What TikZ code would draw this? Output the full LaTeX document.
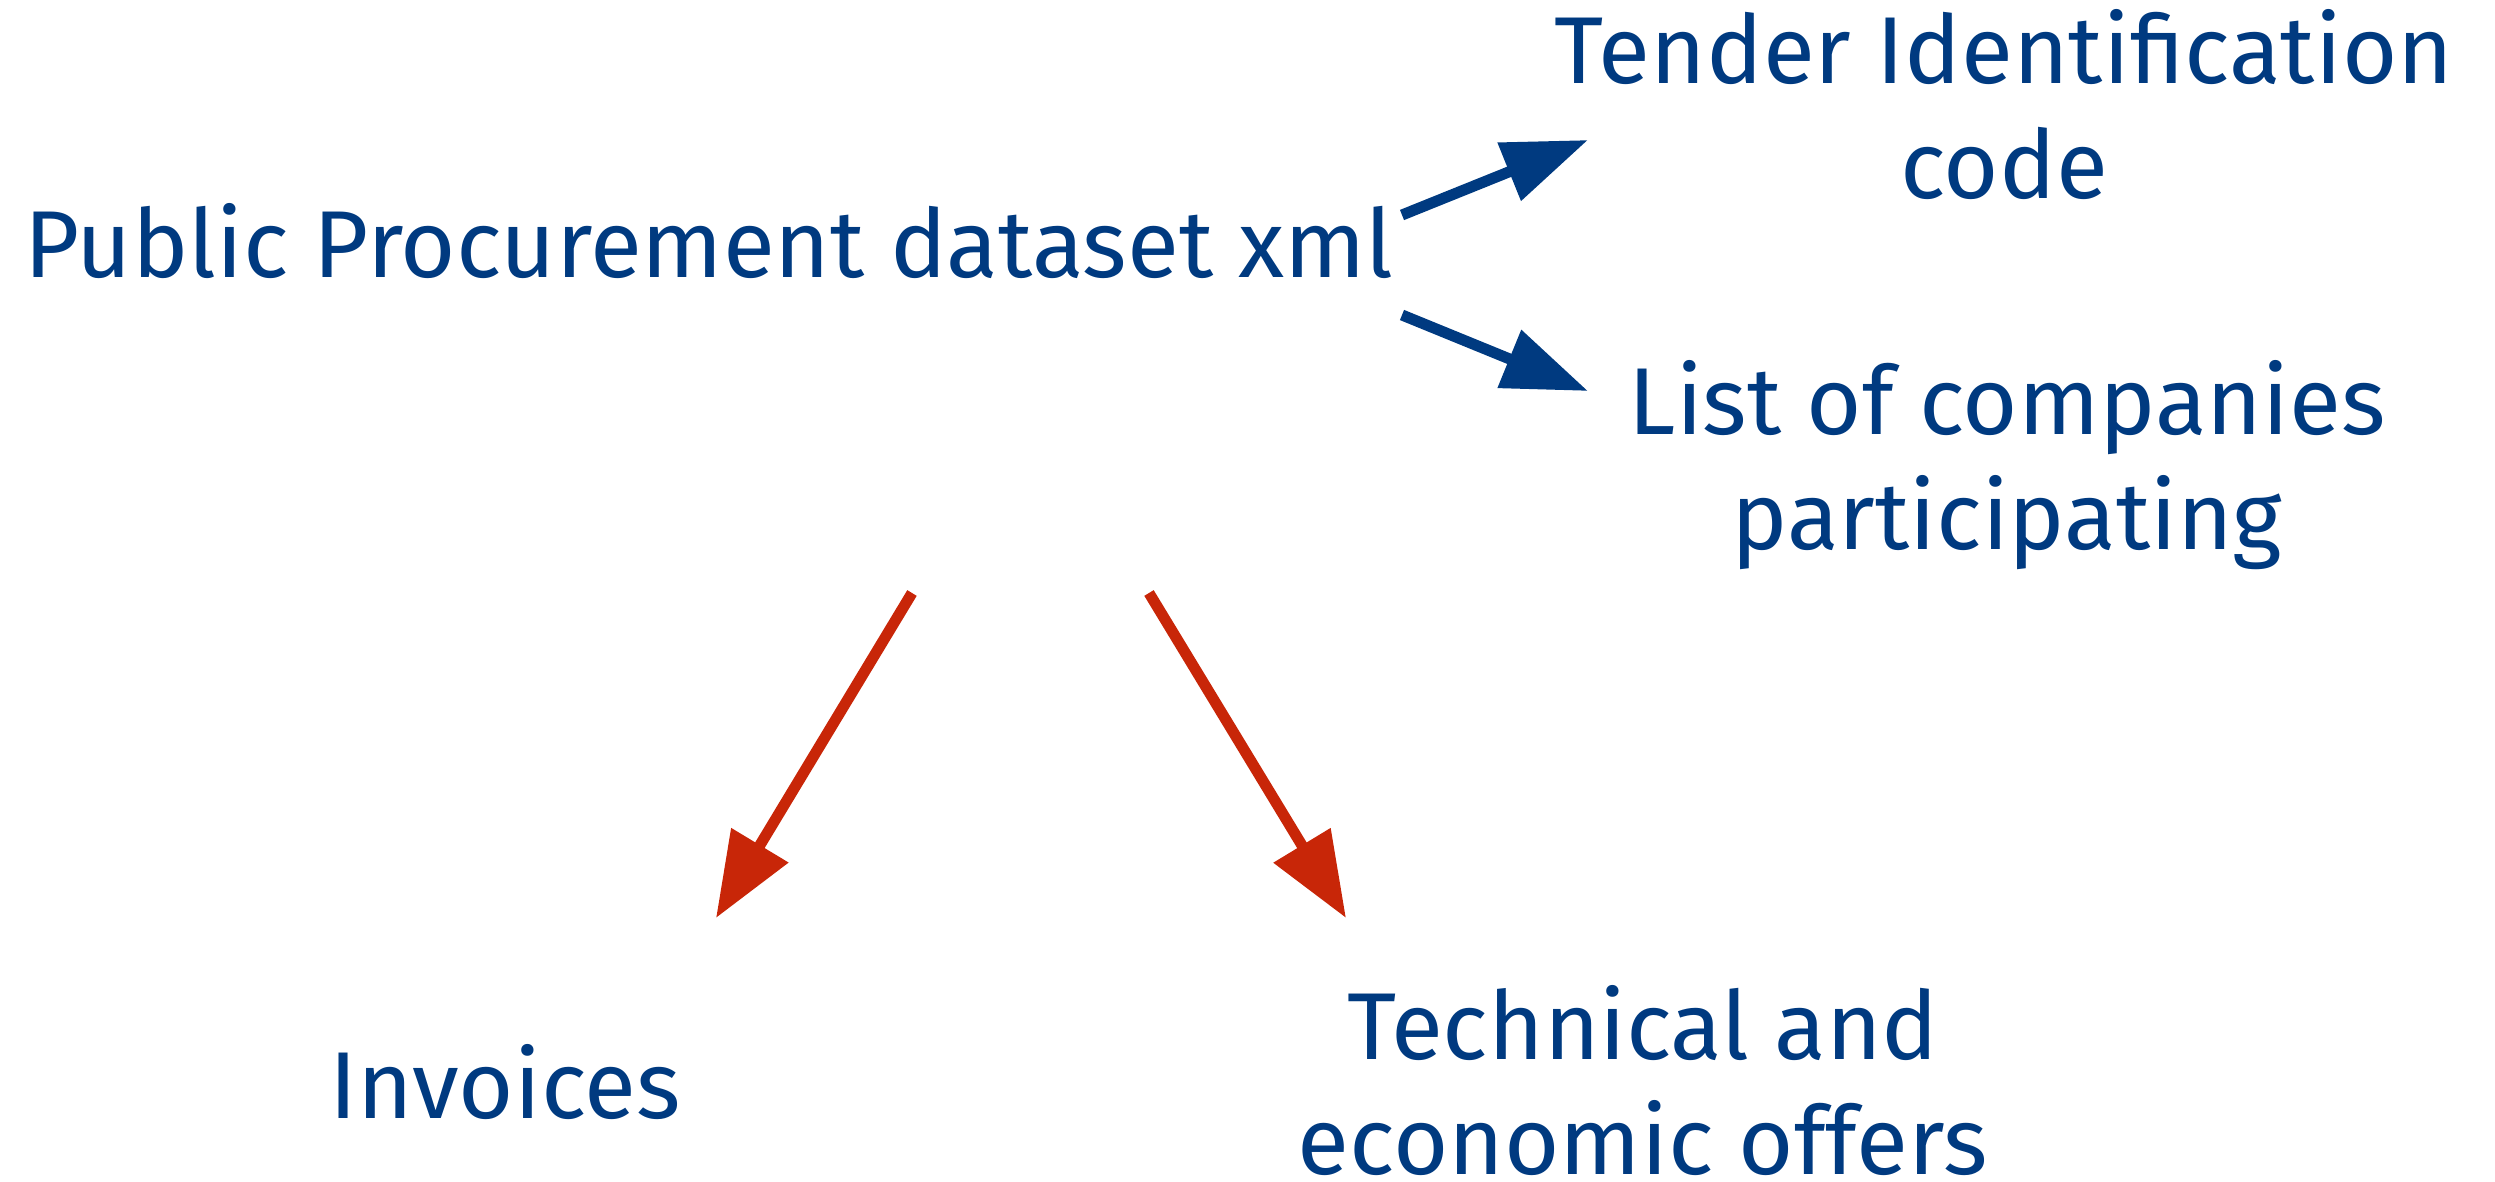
\documentclass[tikz,border=0pt]{standalone}
\usepackage{fontspec}
\setmainfont{Fira Sans}
\usetikzlibrary{arrows.meta}
\definecolor{txtblue}{RGB}{0,58,128}
\definecolor{arrred}{RGB}{200,38,8}
\tikzset{
  lbl/.style={text=txtblue, inner sep=0pt, align=center, font=\fontsize{95}{115}\selectfont},
  bluearr/.style={draw=txtblue, line width=11pt, -{Triangle[length=85pt,width=60pt]}},
  redarr/.style={draw=arrred, line width=11pt, -{Triangle[length=85pt,width=64pt]}}
}
\begin{document}
\begin{tikzpicture}[x=1pt,y=-1pt]
\useasboundingbox (0,0) rectangle (2495,1182);
\node[lbl, anchor=base west] (src) at (24,278) {Public Procurement dataset xml};
\node[lbl, anchor=base] (tic) at (2004,199) {Tender Identification\\code};
\node[lbl, anchor=base] (loc) at (2007,549) {List of companies\\participating};
\node[lbl, anchor=base] (inv) at (505,1118) {Invoices};
\node[lbl, anchor=base] (teo) at (1643,1174) {Technical and\\economic offers};
\coordinate (s1) at (1402,215);
\coordinate (e1) at (1588,140);
\coordinate (s2) at (1402,315);
\coordinate (e2) at (1588,391);
\coordinate (s3) at (912,593);
\coordinate (e3) at (716,918);
\coordinate (s4) at (1149,593);
\coordinate (e4) at (1346,918);
\draw[bluearr] (s1) -- (e1);
\draw[bluearr] (s2) -- (e2);
\draw[redarr] (s3) -- (e3);
\draw[redarr] (s4) -- (e4);
\end{tikzpicture}
\end{document}
